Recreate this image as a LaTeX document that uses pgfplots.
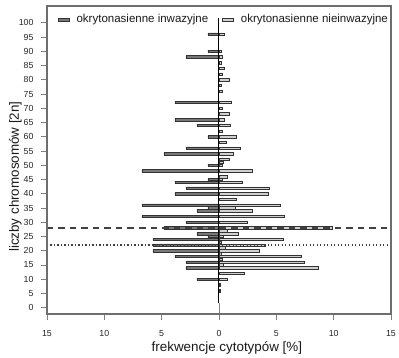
\documentclass[border=0pt]{standalone}
\usepackage{fontspec}
\setmainfont{Liberation Sans}
\usepackage{pgfplots}
\pgfplotsset{compat=1.18}
\definecolor{darkbar}{HTML}{787878}
\definecolor{lightbar}{HTML}{D0D0D0}
\definecolor{edge}{HTML}{333333}
\definecolor{axgray}{HTML}{808080}
\definecolor{boxgray}{HTML}{6E6E6E}
\definecolor{refline}{HTML}{404040}
\begin{document}
\begin{tikzpicture}
\begin{axis}[
  name=ax, at={(0,0)}, anchor=south west,
  scale only axis, width=344bp, height=308bp,
  xmin=-15, xmax=15, ymin=-2.2, ymax=105.9,
  clip=false,
  axis line style={axgray, line width=0.9bp},
  tick style={axgray, line width=0.8bp},
  tick align=outside, xtick pos=bottom, ytick pos=left,
  major tick length=5.5bp,
  xtick={-15,-10,-5,0,5,10,15}, xticklabels={15,10,5,0,5,10,15},
  ytick={0,5,...,100},
  /pgf/number format/assume math mode=true,
  ticklabel style={font=\fontsize{8.8bp}{10bp}\selectfont, text=black!85},
  xticklabel style={yshift=-7bp},
  yticklabel style={xshift=-4.5bp},
  xlabel={frekwencje cytotypów [\%]},
  ylabel={liczby chromosomów [2n]},
  label style={font=\fontsize{13.4bp}{15bp}\selectfont, text=black!90},
  xlabel style={at={([yshift=-37bp]axis description cs:0.523,0)}, anchor=base},
  ylabel style={at={([xshift=-28bp]axis description cs:0,0.446)}, anchor=base},
  legend columns=2,
  legend style={draw=none, fill=none, inner sep=0pt, outer sep=0pt,
    at={(axis description cs:0.032,0.956)}, anchor=west,
    font=\fontsize{11.5bp}{13bp}\selectfont,
    nodes={inner sep=0pt, text=black!90},
    /tikz/every odd column/.append style={column sep=7.5bp},
    /tikz/every even column/.append style={column sep=14bp}},
]
\addlegendimage{legend image code/.code={\draw[fill=darkbar,draw=edge,line width=0.6bp] (0bp,-1.3bp) rectangle (10.5bp,1.3bp);}}
\addlegendentry{okrytonasienne inwazyjne}
\addlegendimage{legend image code/.code={\draw[fill=lightbar,draw=edge,line width=0.6bp] (0bp,-1.3bp) rectangle (10.5bp,1.3bp);}}
\addlegendentry{okrytonasienne nieinwazyjne}

\addplot[xbar, bar width=0.85, bar shift=0pt, fill=darkbar, draw=edge, line width=0.6bp, forget plot] coordinates {
(-0.96,96) (-0.96,90) (-2.88,88) (-3.85,72) (-3.85,66) (-1.92,64) (-0.96,60)
(-2.88,56) (-4.81,54) (-0.96,50) (-6.73,48) (-0.96,45) (-3.85,44) (-2.88,42)
(-3.85,40) (-6.73,36) (-0.96,35) (-1.92,34) (-6.73,32) (-2.88,30) (-4.81,28)
(-1.92,26) (-0.96,25) (-5.77,24) (-5.77,22) (-5.77,20) (-3.85,18) (-2.88,16)
(-2.88,14) (-1.92,10)
};
\addplot[xbar, bar width=0.85, bar shift=0pt, fill=lightbar, draw=edge, line width=0.6bp, forget plot] coordinates {
(0.42,96) (0.2,90) (0.33,88) (0.2,86) (0.42,84) (0.3,82) (0.86,80) (0.2,78)
(0.28,76) (1.09,72) (0.28,70) (0.89,68) (0.42,66) (1.0,64) (0.3,62) (1.47,60)
(0.6,58) (1.82,56) (1.24,54) (0.89,52) (0.37,51) (0.25,50) (2.92,48) (0.71,46)
(0.3,45) (2.02,44) (4.37,42) (4.26,40) (1.47,38) (5.36,36) (1.44,35) (2.89,34)
(5.71,32) (2.46,30) (9.87,28) (0.71,27) (1.64,26) (0.37,25) (5.57,24) (0.19,23)
(4.03,22) (0.57,21) (3.53,20) (0.19,19) (7.17,18) (0.28,17) (7.48,16) (0.37,15)
(8.65,14) (2.25,12) (0.71,10) (0.15,8) (0.15,6)
};
% zero line
\addplot[sharp plot, black, line width=1bp, forget plot] coordinates {(0,1.5) (0,101.6)};
\addplot[sharp plot, axgray, line width=0.8bp, forget plot] coordinates {(0,-1.7) (0,1.5)};
% reference lines
\addplot[sharp plot, refline, line width=1.1bp, dash pattern=on 6.5bp off 5bp, forget plot] coordinates {(-15,28) (15,28)};
\addplot[sharp plot, refline, line width=1.2bp, dash pattern=on 1.4bp off 2.1bp, forget plot] coordinates {(-15,22) (15,22)};
\end{axis}
\draw[boxgray, line width=1.2bp] (ax.south west) rectangle (ax.north east);
\pgfresetboundingbox
\path[use as bounding box] (-47bp,-44bp) rectangle (352bp,314bp);
\end{tikzpicture}
\end{document}
